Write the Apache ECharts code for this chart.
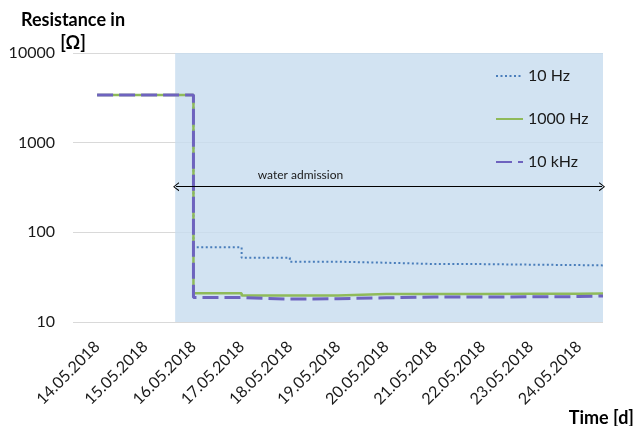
<!DOCTYPE html>
<html>
<head>
<meta charset="utf-8">
<script src="https://cdn.jsdelivr.net/npm/echarts@6/dist/echarts.min.js"></script>
<style>
  html, body { margin: 0; padding: 0; background: #fff; }
  #chart { width: 635px; height: 426px; }
</style>
</head>
<body>
<div id="chart"></div>
<script>
// Day labels on the time axis (one band per day)
const dayLabels = ['14.05.2018', '15.05.2018', '16.05.2018', '17.05.2018', '18.05.2018',
  '19.05.2018', '20.05.2018', '21.05.2018', '22.05.2018', '23.05.2018', '24.05.2018'];

// Measurement times as day of month (14 = 14.05.2018), each value holds until the next time
const times = [14, 16, 17, 18, 19, 20, 21, 22, 23, 24, 24.5];

// Resistance in ohm
const r10Hz   = [3400, 68, 52, 47, 45.8, 44.3, 44.2, 43.6, 43.1, 42.8, 42.6];
const r1000Hz = [3400, 20.9, 19.7, 19.8, 20.5, 20.5, 20.5, 20.6, 20.7, 20.8, 20.9];
const r10kHz  = [3400, 18.7, 18.0, 18.2, 18.6, 19.0, 19.0, 19.1, 19.2, 19.5, 19.6];

const seriesNames = ['10 Hz', '1000 Hz', '10 kHz'];

// Water admission period (day of month) and its annotation
const waterStart = 15.62;
const waterEnd = 24.5;
const arrowLevel = 323;
const waterText = 'water admission';
const waterTextPos = [18.22, 430];

const pairs = vals => times.map((t, i) => [t, vals[i]]);

const font = 'Lato, "Open Sans", sans-serif';
const chevron = 'path://M0,10 L5,0 L10,10 L8.8,10.6 L5,2.4 L1.2,10.6 Z';

const chart = echarts.init(document.getElementById('chart'), null, { renderer: 'canvas' });

chart.setOption({
  animation: false,
  backgroundColor: '#ffffff',
  textStyle: { fontFamily: font },
  grid: { left: 73, right: 32, top: 53, bottom: 104, containLabel: false },
  legend: {
    data: seriesNames,
    orient: 'vertical',
    left: 490,
    top: 63,
    itemWidth: 27,
    itemHeight: 14,
    itemGap: 27,
    itemStyle: { opacity: 0 },
    textStyle: { fontFamily: font, fontSize: 16, color: '#1a1a1a' }
  },
  xAxis: [
    {
      type: 'category',
      data: dayLabels,
      boundaryGap: true,
      axisLine: { show: false },
      axisTick: { show: false },
      splitLine: { show: false },
      axisLabel: {
        rotate: 45,
        interval: 0,
        margin: 22,
        fontFamily: font,
        fontSize: 16,
        color: '#1a1a1a'
      }
    },
    {
      type: 'value',
      min: 13.5,
      max: 24.5,
      show: false
    }
  ],
  yAxis: {
    type: 'log',
    logBase: 10,
    min: 10,
    max: 10000,
    axisLine: { show: false },
    axisTick: { show: false },
    axisLabel: {
      margin: 18,
      fontFamily: font,
      fontSize: 16,
      color: '#1a1a1a',
      formatter: v => String(Math.round(v))
    },
    splitLine: { show: true, lineStyle: { color: '#d9d9d9', width: 1 } }
  },
  graphic: [
    {
      // value axis title, centred over the axis
      type: 'text',
      x: 73,
      y: 9,
      style: {
        text: 'Resistance in\n[Ω]',
        font: 'bold 18px ' + font,
        fill: '#000',
        align: 'center',
        lineHeight: 23
      }
    },
    {
      type: 'text',
      right: 1,
      top: 409,
      style: { text: 'Time [d]', font: 'bold 18px ' + font, fill: '#000' }
    }
  ],
  series: [
    {
      name: 'water',
      type: 'line',
      xAxisIndex: 1,
      data: [],
      silent: true,
      markArea: {
        silent: true,
        itemStyle: { color: 'rgba(199,220,239,0.8)' },
        data: [[{ xAxis: waterStart }, { xAxis: waterEnd }]]
      },
      markLine: {
        silent: true,
        symbol: [chevron, chevron],
        symbolSize: [9, 6],
        lineStyle: { color: '#000', width: 1, type: 'solid' },
        label: { show: false },
        data: [[{ coord: [waterStart + 0.02, arrowLevel] }, { coord: [waterEnd - 0.02, arrowLevel] }]]
      },
      markPoint: {
        silent: true,
        symbol: 'circle',
        symbolSize: 0,
        label: {
          show: true,
          position: 'inside',
          formatter: waterText,
          fontFamily: font,
          fontSize: 12,
          color: '#1a1a1a'
        },
        data: [{ coord: waterTextPos }]
      }
    },
    {
      name: seriesNames[0],
      type: 'line',
      xAxisIndex: 1,
      step: 'end',
      symbol: 'none',
      data: pairs(r10Hz),
      color: '#4a7ebb',
      lineStyle: { color: '#4a7ebb', width: 2, type: [2, 2.5] }
    },
    {
      name: seriesNames[1],
      type: 'line',
      xAxisIndex: 1,
      step: 'end',
      symbol: 'none',
      data: pairs(r1000Hz),
      color: '#8fba5a',
      lineStyle: { color: '#8fba5a', width: 2.5, type: 'solid' }
    },
    {
      name: seriesNames[2],
      type: 'line',
      xAxisIndex: 1,
      step: 'end',
      symbol: 'none',
      data: pairs(r10kHz),
      color: '#6e63bf',
      lineStyle: { color: '#6e63bf', width: 3, type: [16, 6] }
    }
  ]
});
</script>
</body>
</html>
